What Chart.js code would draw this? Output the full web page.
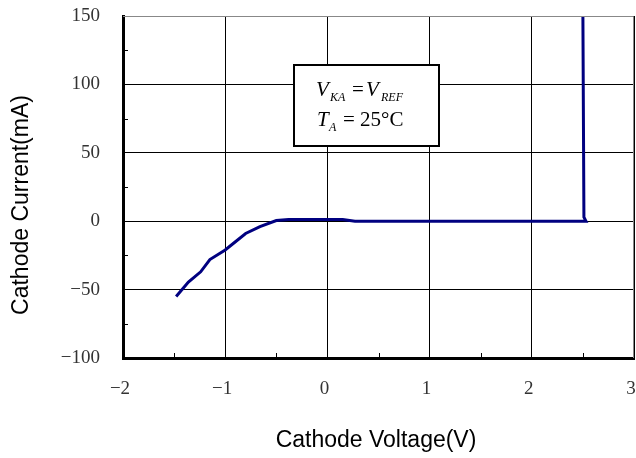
<!DOCTYPE html>
<html>
<head>
<meta charset="utf-8">
<script src="https://cdn.jsdelivr.net/npm/chart.js@4.4.0/dist/chart.umd.min.js"></script>
<style>
  body { margin: 0; background: #fff; }
  #wrap { width: 636px; height: 458px; }
</style>
</head>
<body>
<div id="wrap"><canvas id="ivChart" width="636" height="458"></canvas></div>
<script>
// Cathode voltage (V) vs cathode current (mA)
const voltage = [-1.48, -1.36, -1.24, -1.15, -1.0, -0.9, -0.8, -0.66, -0.5, -0.38, 0.15, 0.27, 2.53, 2.51, 2.5];
const current = [-55, -44.5, -37, -28, -21, -15, -9, -4, 0.5, 1.2, 1.2, 0, 0, 3, 150];

const xTicks = [-2, -1, 0, 1, 2, 3];
const yTicks = [-100, -50, 0, 50, 100, 150];
const xMinor = [-1.5, -0.5, 0.5, 1.5, 2.5];
const yMinor = [-75, -25, 25, 75, 125];

const points = voltage.map((v, i) => ({ x: v, y: current[i] }));
const minus = v => String(v).replace('-', '\u2212');

// fixed axis sizes, and no extra padding from the tick labels
const fixSize = (s, w, h) => {
    if (w) s.width = w;
    if (h) s.height = h;
    s.paddingLeft = s.paddingRight = s.paddingTop = s.paddingBottom = 0;
};

// frame, minor ticks, note box and axis titles
const extras = {
    id: 'extras',
    afterDraw(chart) {
        const ctx = chart.ctx;
        const a = chart.chartArea;
        const xs = chart.scales.x, ys = chart.scales.y;
        ctx.save();

        // thin grey top/right frame
        ctx.strokeStyle = '#888';
        ctx.lineWidth = 1;
        ctx.beginPath();
        ctx.moveTo(a.left, a.top + 0.5);
        ctx.lineTo(a.right - 0.5, a.top + 0.5);
        ctx.lineTo(a.right - 0.5, a.bottom);
        ctx.stroke();

        // minor ticks pointing inward
        ctx.strokeStyle = '#000';
        ctx.lineWidth = 1;
        ctx.beginPath();
        xMinor.forEach(v => {
            const px = Math.round(xs.getPixelForValue(v)) + 0.5;
            ctx.moveTo(px, a.bottom);
            ctx.lineTo(px, a.bottom - 5);
        });
        yMinor.forEach(v => {
            const py = Math.round(ys.getPixelForValue(v)) + 0.5;
            ctx.moveTo(a.left, py);
            ctx.lineTo(a.left + 5, py);
        });
        ctx.stroke();

        // note box
        ctx.fillStyle = '#fff';
        ctx.fillRect(294, 65, 145, 81);
        ctx.strokeStyle = '#000';
        ctx.lineWidth = 2;
        ctx.strokeRect(294, 65, 145, 81);

        ctx.fillStyle = '#000';
        ctx.textAlign = 'left';
        ctx.textBaseline = 'alphabetic';
        const big = 'italic 21px "Liberation Serif"';
        const small = 'italic 12px "Liberation Serif"';
        const plain = '21px "Liberation Serif"';
        ctx.font = big; ctx.fillText('V', 316, 96);
        ctx.font = small; ctx.fillText('KA', 330, 101);
        ctx.font = plain; ctx.fillText('=', 352, 96);
        ctx.font = big; ctx.fillText('V', 366, 96);
        ctx.font = small; ctx.fillText('REF', 381, 101);
        ctx.font = big; ctx.fillText('T', 317, 126);
        ctx.font = small; ctx.fillText('A', 329, 131);
        ctx.font = plain; ctx.fillText('= 25\u00B0C', 343, 126);

        // axis titles
        ctx.font = '23px "Liberation Sans"';
        ctx.textAlign = 'center';
        ctx.textBaseline = 'middle';
        ctx.fillText('Cathode Voltage(V)', 376, 441);
        ctx.translate(22, 205);
        ctx.rotate(-Math.PI / 2);
        ctx.fillText('Cathode Current(mA)', 0, 0);
        ctx.restore();
    }
};

const ivChart = new Chart(document.getElementById('ivChart').getContext('2d'), {
    type: 'line',
    data: {
        datasets: [{
            data: points,
            borderColor: '#000080',
            borderWidth: 3,
            pointRadius: 0,
            tension: 0,
            fill: false
        }]
    },
    options: {
        responsive: false,
        animation: false,
        layout: { padding: { top: 16, right: 2, left: 0, bottom: 0 } },
        plugins: { legend: { display: false }, tooltip: { enabled: false } },
        scales: {
            x: {
                type: 'linear',
                min: -2,
                max: 3,
                afterFit: s => fixSize(s, 0, 100),
                afterBuildTicks: s => { s.ticks = xTicks.map(v => ({ value: v })); },
                border: { color: '#000', width: 3 },
                grid: { color: '#000', lineWidth: 1, drawTicks: false },
                ticks: {
                    padding: 20,
                    labelOffset: -3,
                    color: '#333',
                    font: { family: 'Liberation Serif', size: 19 },
                    callback: v => minus(v)
                }
            },
            y: {
                min: -100,
                max: 150,
                afterFit: s => fixSize(s, 123, 0),
                afterBuildTicks: s => { s.ticks = yTicks.map(v => ({ value: v })); },
                border: { color: '#000', width: 3 },
                grid: { color: '#000', lineWidth: 1, drawTicks: false },
                ticks: {
                    padding: 23,
                    color: '#333',
                    font: { family: 'Liberation Serif', size: 19 },
                    callback: v => minus(v)
                }
            }
        }
    },
    plugins: [extras]
});
</script>
</body>
</html>
